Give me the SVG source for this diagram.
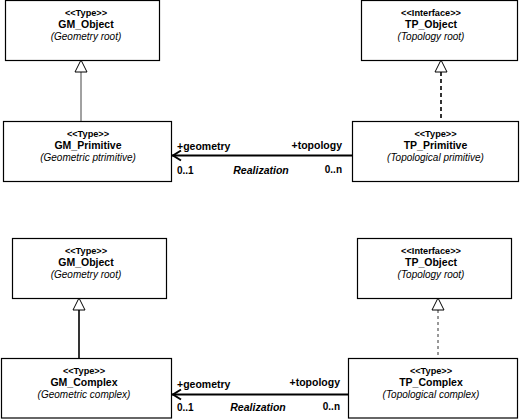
<svg xmlns="http://www.w3.org/2000/svg" width="520" height="419" viewBox="0 0 520 419">
<style>
.box{fill:#fff;stroke:#000;stroke-width:1.2}
text{font-family:"Liberation Sans",Arial,sans-serif;fill:#000}
.st{font-size:9.2px;font-weight:bold;text-anchor:middle}
.nm{font-size:10.5px;font-weight:bold;text-anchor:middle}
.ds{font-size:10px;font-style:italic;text-anchor:middle}
.role{font-size:10.5px;font-weight:bold}
.mul{font-size:10px;font-weight:bold}
.rl{font-size:10.5px;font-weight:bold;font-style:italic;text-anchor:middle}
.assoc{stroke:#000;stroke-width:2;fill:none}
.tri{fill:#fff;stroke:#000;stroke-width:1}
</style>
<rect width="520" height="419" fill="#fff"/>
<g id="connectors">
  <line x1="81" y1="72" x2="81" y2="121" stroke="#444" stroke-width="1"/>
  <polygon class="tri" points="81,60 75,72 87,72"/>
  <line x1="441" y1="72" x2="441" y2="121" stroke="#000" stroke-width="1.6" stroke-dasharray="4,3"/>
  <polygon class="tri" points="441,60 435,72 447,72"/>
  <line x1="172" y1="155.5" x2="352" y2="155.5" class="assoc"/>
  <polyline class="assoc" points="181,150.5 173,155.5 181,160.5"/>
  <line x1="79" y1="310" x2="79" y2="358" stroke="#000" stroke-width="1.6"/>
  <polygon class="tri" points="79,298 73,310 85,310"/>
  <line x1="438" y1="310" x2="438" y2="358" stroke="#333" stroke-width="1" stroke-dasharray="3,3"/>
  <polygon class="tri" points="438,298 432,310 444,310"/>
  <line x1="172" y1="394.5" x2="348" y2="394.5" class="assoc"/>
  <polyline class="assoc" points="181,389.5 173,394.5 181,399.5"/>
  <text class="role" x="177" y="150">+geometry</text>
  <text class="role" x="342" y="149" text-anchor="end">+topology</text>
  <text class="mul" x="177" y="174">0..1</text>
  <text class="mul" x="342" y="173" text-anchor="end">0..n</text>
  <text class="rl" x="261" y="174">Realization</text>
  <text class="role" x="177" y="388">+geometry</text>
  <text class="role" x="340" y="386" text-anchor="end">+topology</text>
  <text class="mul" x="177" y="411">0..1</text>
  <text class="mul" x="340" y="410" text-anchor="end">0..n</text>
  <text class="rl" x="258" y="411">Realization</text>
</g>
<g id="gm_object_top">
  <rect class="box" x="5.5" y="0.5" width="154" height="60"/>
  <text class="st" x="86" y="16">&lt;&lt;Type&gt;&gt;</text>
  <text class="nm" x="86" y="28">GM_Object</text>
  <text class="ds" x="86" y="40">(Geometry root)</text>
</g>
<g id="tp_object_top">
  <rect class="box" x="361.5" y="0.5" width="156" height="60"/>
  <text class="st" x="431" y="16">&lt;&lt;Interface&gt;&gt;</text>
  <text class="nm" x="431" y="28">TP_Object</text>
  <text class="ds" x="431" y="40">(Topology root)</text>
</g>
<g id="gm_primitive">
  <rect class="box" x="3.5" y="121.5" width="168" height="60"/>
  <text class="st" x="88" y="137">&lt;&lt;Type&gt;&gt;</text>
  <text class="nm" x="88" y="149">GM_Primitive</text>
  <text class="ds" x="88" y="161">(Geometric ptrimitive)</text>
</g>
<g id="tp_primitive">
  <rect class="box" x="352.5" y="121.5" width="166" height="60"/>
  <text class="st" x="435.5" y="137">&lt;&lt;Type&gt;&gt;</text>
  <text class="nm" x="435.5" y="149">TP_Primitive</text>
  <text class="ds" x="435.5" y="161">(Topological primitive)</text>
</g>
<g id="gm_object_bottom">
  <rect class="box" x="12.5" y="238.5" width="154" height="60"/>
  <text class="st" x="86" y="254">&lt;&lt;Type&gt;&gt;</text>
  <text class="nm" x="86" y="266">GM_Object</text>
  <text class="ds" x="86" y="278">(Geometry root)</text>
</g>
<g id="tp_object_bottom">
  <rect class="box" x="357.5" y="238.5" width="154" height="60"/>
  <text class="st" x="431" y="254">&lt;&lt;Interface&gt;&gt;</text>
  <text class="nm" x="431" y="266">TP_Object</text>
  <text class="ds" x="431" y="278">(Topology root)</text>
</g>
<g id="gm_complex">
  <rect class="box" x="1.5" y="358.5" width="170" height="59.5"/>
  <text class="st" x="84" y="374">&lt;&lt;Type&gt;&gt;</text>
  <text class="nm" x="84" y="386">GM_Complex</text>
  <text class="ds" x="84" y="398">(Geometric complex)</text>
</g>
<g id="tp_complex">
  <rect class="box" x="348.5" y="358.5" width="169" height="59.5"/>
  <text class="st" x="431" y="374">&lt;&lt;Type&gt;&gt;</text>
  <text class="nm" x="431" y="386">TP_Complex</text>
  <text class="ds" x="431" y="398">(Topological complex)</text>
</g>
</svg>
